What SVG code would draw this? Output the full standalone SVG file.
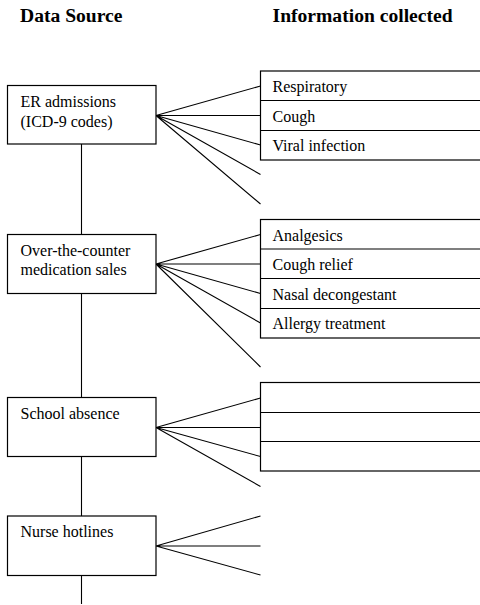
<svg xmlns="http://www.w3.org/2000/svg" width="480" height="605" viewBox="0 0 480 605">
<style>
.hdr{font-family:"Liberation Serif","Times New Roman",serif;font-weight:bold;font-size:19.6px;fill:#000}
.t{font-family:"Liberation Serif","Times New Roman",serif;font-size:16px;fill:#000}
.box{fill:#fff;stroke:#000;stroke-width:1.2}
.ln{stroke:#000;stroke-width:1.1;fill:none}
</style>
<rect width="480" height="605" fill="#fff"/>
<text class="hdr" x="20" y="22">Data Source</text>
<text class="hdr" x="272.5" y="22">Information collected</text>

<g id="connectors">
  <path class="ln" d="M81.5 144V234.5M81.5 293.5V397.5M81.5 456.5V516M81.5 575.5V604"/>
  <path class="ln" d="M156 115.5L260.5 86M156 115.5L260.5 115.5M156 115.5L260.5 145M156 115.5L260.5 174.5M156 115.5L260.5 204"/>
  <path class="ln" d="M156 264L260.5 234.5M156 264L260.5 264M156 264L260.5 293.5M156 264L260.5 323M156 264L260.5 367"/>
  <path class="ln" d="M156 427.5L260.5 398M156 427.5L260.5 427.5M156 427.5L260.5 456.5M156 427.5L260.5 486.5"/>
  <path class="ln" d="M156 546L260.5 516M156 546L260.5 546M156 546L260.5 575"/>
</g>

<g id="er">
  <rect class="box" x="7.5" y="85.5" width="148.5" height="58.5"/>
  <text class="t" x="20.5" y="107">ER admissions</text>
  <text class="t" x="20.5" y="126.5">(ICD-9 codes)</text>
</g>
<g id="er-info">
  <rect class="box" x="260.5" y="71" width="240" height="89"/>
  <path class="ln" d="M260.5 100.5H480M260.5 130.5H480"/>
  <text class="t" x="272.5" y="92">Respiratory</text>
  <text class="t" x="272.5" y="121.5">Cough</text>
  <text class="t" x="272.5" y="151">Viral infection</text>
</g>

<g id="otc">
  <rect class="box" x="7.5" y="234.5" width="148.5" height="59"/>
  <text class="t" x="20.5" y="256">Over-the-counter</text>
  <text class="t" x="20.5" y="275">medication sales</text>
</g>
<g id="otc-info">
  <rect class="box" x="260.5" y="219.5" width="240" height="118.5"/>
  <path class="ln" d="M260.5 249H480M260.5 278.5H480M260.5 308.5H480"/>
  <text class="t" x="272.5" y="240.5">Analgesics</text>
  <text class="t" x="272.5" y="270">Cough relief</text>
  <text class="t" x="272.5" y="299.5">Nasal decongestant</text>
  <text class="t" x="272.5" y="329">Allergy treatment</text>
</g>

<g id="school">
  <rect class="box" x="7.5" y="397.5" width="148.5" height="59"/>
  <text class="t" x="20.5" y="418.5">School absence</text>
</g>
<g id="school-info">
  <rect class="box" x="260.5" y="382.5" width="240" height="88.5"/>
  <path class="ln" d="M260.5 412.5H480M260.5 441.5H480"/>
</g>

<g id="nurse">
  <rect class="box" x="7.5" y="516" width="148.5" height="59.5"/>
  <text class="t" x="20.5" y="537">Nurse hotlines</text>
</g>
</svg>
